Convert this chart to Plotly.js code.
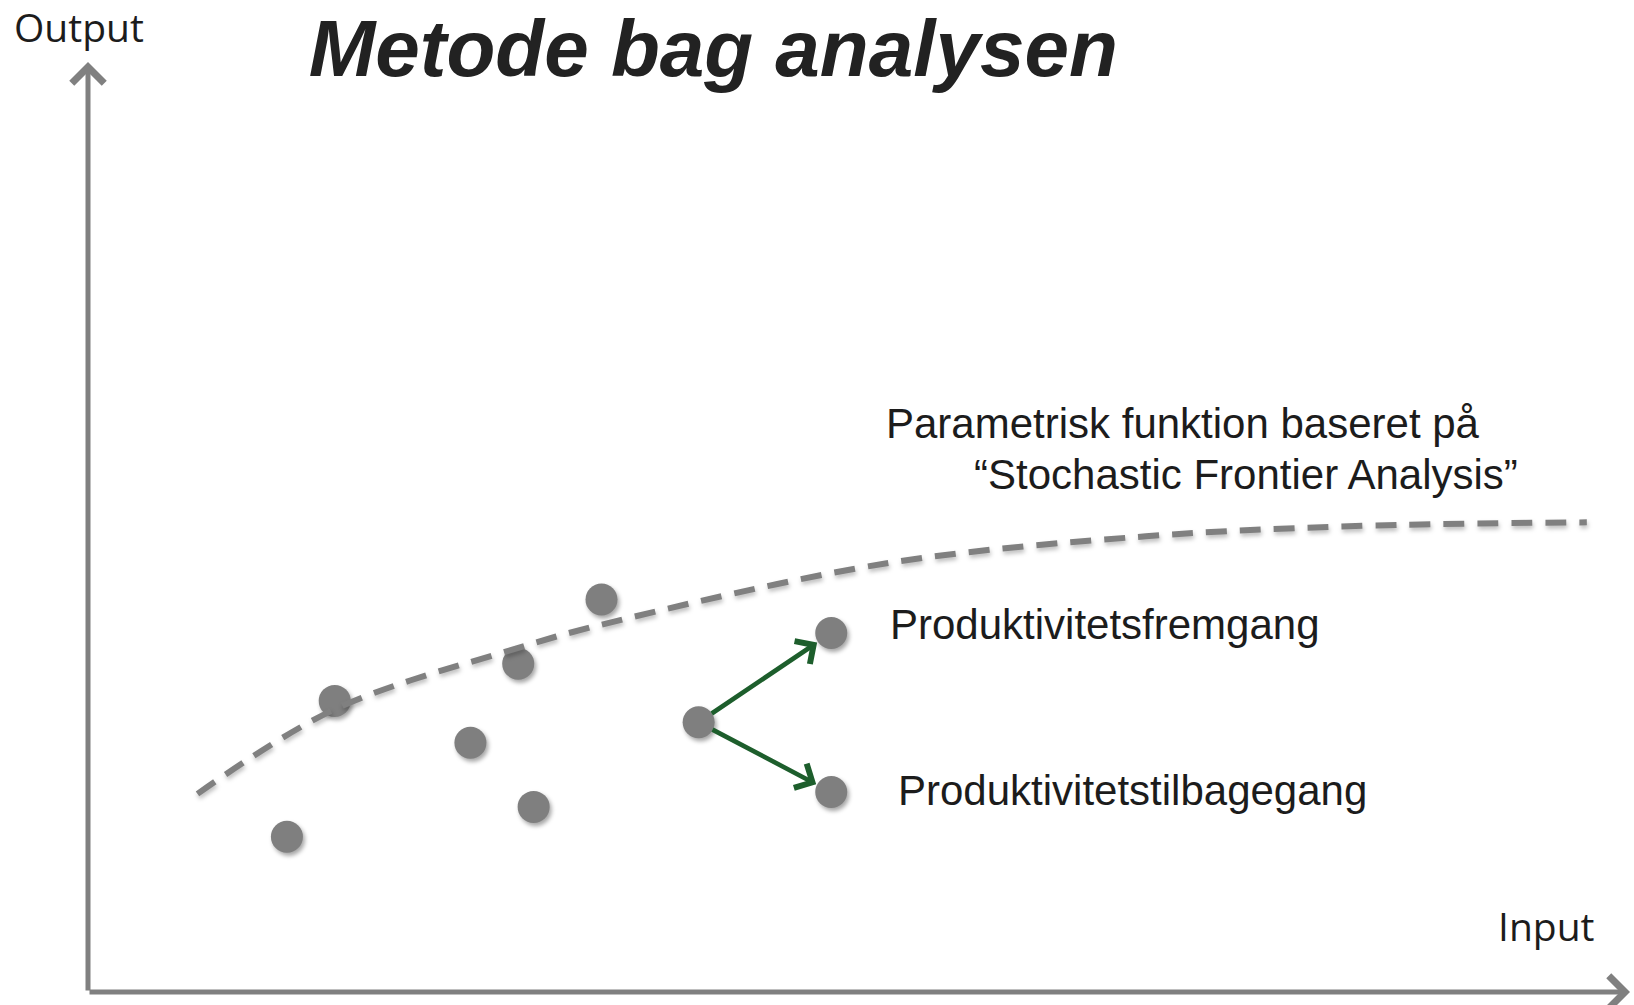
<!DOCTYPE html>
<html>
<head>
<meta charset="utf-8">
<script src="https://cdn.plot.ly/plotly-3.0.1.min.js"></script>
<style>
  html, body { margin: 0; padding: 0; background: #fff; }
  #chart { width: 1634px; height: 1005px; }
  #chart .scatterlayer .trace:first-child .points path { filter: drop-shadow(2px 3px 2px rgba(0,0,0,0.35)); }
  #chart .scatterlayer .trace:nth-child(2) .js-line { filter: drop-shadow(1px 3px 2px rgba(0,0,0,0.25)); }
</style>
</head>
<body>
<div id="chart"></div>
<script>
// Observations (input, output)
const obsInput  = [12.9, 16.0, 24.8, 27.9, 28.9, 33.3, 39.6, 48.2, 48.2];
const obsOutput = [16.7, 31.3, 26.8, 35.3, 19.9, 42.2, 29.0, 38.6, 21.5];

// Parametric frontier (SFA)
const frontierInput  = [7.1, 16.0, 27.9, 33.3, 51.8, 68.6, 82.2, 97.2];
const frontierOutput = [21.3, 30.4, 37.0, 39.5, 46.1, 49.0, 50.1, 50.5];

// Index of the moving unit and its two outcomes
const fromIdx = 6;
const upIdx = 7;
const downIdx = 8;

const titleText = 'Metode bag analysen';
const yLabel = 'Output';
const xLabel = 'Input';
const frontierLabel1 = 'Parametrisk funktion baseret på';
const frontierLabel2 = '\u201cStochastic Frontier Analysis\u201d';
const upLabel = 'Produktivitetsfremgang';
const downLabel = 'Produktivitetstilbagegang';

const grey = '#7f7f7f';
const green = '#1d5e2c';
const textColor = '#1c1c1c';

const traces = [
  {
    x: obsInput, y: obsOutput, type: 'scatter', mode: 'markers',
    marker: { size: 32, color: grey, line: { width: 0 } },
    hoverinfo: 'skip', cliponaxis: false
  },
  {
    x: frontierInput, y: frontierOutput, type: 'scatter', mode: 'lines',
    line: { color: '#808080', width: 6, dash: '21px,13px', shape: 'spline', smoothing: 1 },
    hoverinfo: 'skip', cliponaxis: false
  }
];

const labelFont = { family: 'Liberation Sans, Arial, sans-serif', size: 42, color: textColor };
const axisFont = { family: 'Open Sans, sans-serif', size: 39, color: textColor };

const annotations = [
  // axes arrows
  { x: 0, y: 100, ax: 0, ay: 0, xref: 'x', yref: 'y', axref: 'x', ayref: 'y',
    text: '', showarrow: true, arrowhead: 4, arrowsize: 1.25, arrowwidth: 5, arrowcolor: '#808080' },
  { x: 100, y: 0, ax: 0, ay: 0, xref: 'x', yref: 'y', axref: 'x', ayref: 'y',
    text: '', showarrow: true, arrowhead: 4, arrowsize: 1.25, arrowwidth: 5, arrowcolor: '#808080' },
  // productivity arrows
  { x: obsInput[upIdx], y: obsOutput[upIdx], ax: obsInput[fromIdx], ay: obsOutput[fromIdx],
    xref: 'x', yref: 'y', axref: 'x', ayref: 'y', text: '', showarrow: true,
    arrowhead: 4, arrowsize: 1.15, arrowwidth: 4.6, arrowcolor: green, standoff: 17, startstandoff: 14 },
  { x: obsInput[downIdx], y: obsOutput[downIdx], ax: obsInput[fromIdx], ay: obsOutput[fromIdx],
    xref: 'x', yref: 'y', axref: 'x', ayref: 'y', text: '', showarrow: true,
    arrowhead: 4, arrowsize: 1.15, arrowwidth: 4.6, arrowcolor: green, standoff: 17, startstandoff: 14 },
  // texts
  { x: -0.049, y: 1.0387, xref: 'paper', yref: 'paper', text: yLabel, showarrow: false,
    xanchor: 'left', yanchor: 'middle', font: axisFont },
  { x: 91.3, y: 7.1, xref: 'x', yref: 'y', text: xLabel, showarrow: false,
    xanchor: 'left', yanchor: 'middle', font: axisFont },
  { x: 51.6, y: 61.1, xref: 'x', yref: 'y', text: frontierLabel1, showarrow: false,
    xanchor: 'left', yanchor: 'middle', font: labelFont },
  { x: 57.3, y: 55.6, xref: 'x', yref: 'y', text: frontierLabel2, showarrow: false,
    xanchor: 'left', yanchor: 'middle', font: labelFont },
  { x: 51.9, y: 39.5, xref: 'x', yref: 'y', text: upLabel, showarrow: false,
    xanchor: 'left', yanchor: 'middle', font: labelFont },
  { x: 52.4, y: 21.7, xref: 'x', yref: 'y', text: downLabel, showarrow: false,
    xanchor: 'left', yanchor: 'middle', font: labelFont }
];

const layout = {
  width: 1634, height: 1005,
  margin: { l: 88, r: 4, t: 62, b: 13, pad: 0 },
  paper_bgcolor: '#ffffff', plot_bgcolor: '#ffffff',
  showlegend: false,
  title: {
    text: titleText,
    x: 0.4365, xanchor: 'center', xref: 'container',
    y: 0.952, yanchor: 'middle', yref: 'container',
    font: { family: 'Liberation Sans, Arial, sans-serif', size: 80, color: '#222222', weight: 'bold', style: 'italic' }
  },
  xaxis: { range: [0, 100], showgrid: false, zeroline: false, showticklabels: false, showline: false, ticks: '', fixedrange: true },
  yaxis: { range: [0, 100], showgrid: false, zeroline: false, showticklabels: false, showline: false, ticks: '', fixedrange: true },
  annotations: annotations
};

Plotly.newPlot('chart', traces, layout, { displayModeBar: false, staticPlot: true });
</script>
</body>
</html>
